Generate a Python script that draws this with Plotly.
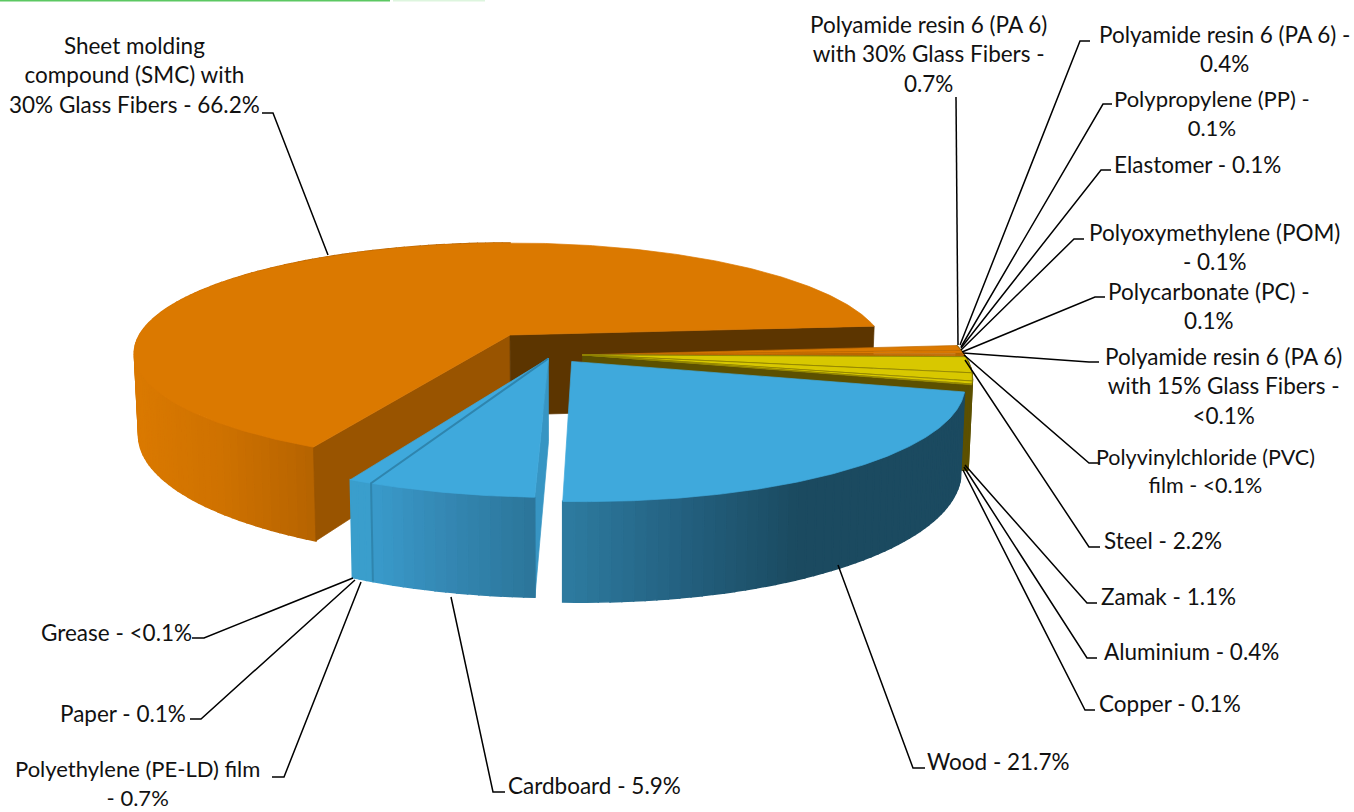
import numpy as np
import plotly.graph_objects as go

# ---------- data ----------
materials = ["Polyamide resin 6 (PA 6) with 30% Glass Fibers", "Polyamide resin 6 (PA 6)", "Polypropylene (PP)",
             "Elastomer", "Polyoxymethylene (POM)", "Polycarbonate (PC)",
             "Polyamide resin 6 (PA 6) with 15% Glass Fibers", "Polyvinylchloride (PVC) film",
             "Steel", "Zamak", "Aluminium", "Copper", "Wood", "Cardboard",
             "Polyethylene (PE-LD) film", "Paper", "Grease",
             "Sheet molding compound (SMC) with 30% Glass Fibers"]
shares = [0.7, 0.4, 0.1, 0.1, 0.1, 0.1, 0.05, 0.03, 2.2, 1.1, 0.4, 0.1, 21.7, 5.9, 0.7, 0.1, 0.03, 66.2]
groups = ["plastic"] * 8 + ["metal"] * 4 + ["wood"] + ["paper"] + ["paper"] * 3 + ["smc"]
label_texts = ["Polyamide resin 6 (PA 6)<br>with 30% Glass Fibers -<br>0.7%", "Polyamide resin 6 (PA 6) -<br>0.4%",
               "Polypropylene (PP) -<br>0.1%", "Elastomer - 0.1%", "Polyoxymethylene (POM)<br>- 0.1%",
               "Polycarbonate (PC) -<br>0.1%", "Polyamide resin 6 (PA 6)<br>with 15% Glass Fibers -<br>&lt;0.1%",
               "Polyvinylchloride (PVC)<br>film - &lt;0.1%", "Steel - 2.2%", "Zamak - 1.1%", "Aluminium - 0.4%",
               "Copper - 0.1%", "Wood - 21.7%", "Cardboard - 5.9%", "Polyethylene (PE-LD) film<br>- 0.7%",
               "Paper - 0.1%", "Grease - &lt;0.1%", "Sheet molding<br>compound (SMC) with<br>30% Glass Fibers - 66.2%"]

# ---------- layout / projection constants ----------
W, H = 1354, 812
CX, CY, A, B, K, DEPTH, VX = 510, 335, 370.5, 107.2, 0.165, 80, 560
START = -4.8
EXPLODE = {"plastic": (0.19, 0.18), "metal": (0.19, 0.18), "wood": (0.16, 0.237), "paper": (0.10, 0.212), "smc": (0, 0)}
FONT = "Lato"
FS = 22.5
label_sizes = [FS, FS, 22, FS, FS, FS, FS, 21.5, FS, FS, FS, FS, FS, FS, 22, FS, FS, FS]
label_pos = [(928, 54), (1224, 49), (1212, 113), (1197, 164), (1214, 247), (1209, 306), (1223, 386), (1205, 471),
             (1163, 540), (1168, 596), (1191, 651), (1170, 703), (998, 761), (594, 785), (137, 783), (123, 713),
             (116, 632), (134, 75)]
leaders = [[(956, 97), (958, 345)], [(1090, 41), (1080, 41), (960, 345)], [(1112, 104), (1103, 104), (961, 347)],
           [(1111, 170), (1101, 170), (961, 348)], [(1084, 239), (1074, 239), (961, 350)],
           [(1105, 297), (1095, 297), (962, 352)], [(1099, 362), (1089, 362), (963, 353)],
           [(1100, 463), (1089, 463), (964, 355)], [(1100, 547), (1089, 547), (965, 360)],
           [(1097, 603), (1087, 603), (965, 465)], [(1097, 658), (1087, 658), (964, 467)],
           [(1095, 710), (1085, 710), (963, 470)], [(925, 768), (913, 768), (838, 565)],
           [(505, 792), (493, 792), (451, 597)], [(272, 777), (284, 777), (361, 582)],
           [(190, 719), (201, 719), (355, 580)], [(192, 638), (204, 638), (353, 578)],
           [(262, 113), (273, 113), (328, 255)]]

ORANGE, YELLOW, BLUE = "#DB7900", "#D8C800", "#3FA9DC"
OLIVE, BROWN_D, BROWN_M = "#5C5000", "#5C3500", "#995400"


def project(th, r, off, z=0):
    th = np.radians(th)
    X = off[0] + r * np.cos(th)
    Y = off[1] + r * np.sin(th)
    w = 1 - K * Y
    sx = CX + A * X / w
    sy = CY + B * Y / w
    if z:
        sy = sy + DEPTH / w
        sx = VX + (sx - VX) * 0.99
    return sx, sy


def hex2rgb(h):
    return [int(h[i:i + 2], 16) for i in (1, 3, 5)]


def grad(x, stops):
    xs = [s[0] for s in stops]
    cs = np.array([hex2rgb(s[1]) for s in stops])
    return "rgb(%d,%d,%d)" % tuple(np.interp(x, xs, cs[:, i]) for i in range(3))


fig = go.Figure()


def poly(xs, ys, color, line=None, lw=0.7):
    fig.add_trace(go.Scatter(x=list(xs), y=list(ys), mode="lines", fill="toself", fillcolor=color,
                             line=dict(color=line or color, width=lw), hoverinfo="skip", showlegend=False))


def top(t0, t1, off, color, line=None, lw=0.7):
    th = np.linspace(t0, t1, max(3, int(abs(t1 - t0) * 2)))
    x, y = project(th, 1.0, off)
    ax, ay = project(0, 0, off)
    poly(np.r_[ax, x, ax], np.r_[ay, y, ay], color, line, lw)


def arc_wall(t0, t1, off, stops, step=1.5):
    n = max(2, int(abs(t1 - t0) / step) + 1)
    th = np.linspace(t0, t1, n + 1)
    for a, b in zip(th[:-1], th[1:]):
        x0, y0 = project(np.array([a, b]), 1.0, off)
        x1, y1 = project(np.array([b, a]), 1.0, off, 1)
        poly(np.r_[x0, x1, x0[0]], np.r_[y0, y1, y0[0]], grad((x0[0] + x0[1]) / 2, stops), lw=1.6)


def cut_wall(t, off, color):
    ax, ay = project(0, 0, off)
    bx, by = project(0, 0, off, 1)
    ox, oy = project(t, 1.0, off)
    px, py = project(t, 1.0, off, 1)
    poly([ax, ox, px, bx, ax], [ay, oy, py, by, ay], color)


# cumulative angles
edges = START + np.r_[0, np.cumsum(shares)] / sum(shares) * 360
grp_idx = lambda g: [i for i, v in enumerate(groups) if v == g]

# SMC
s0, s1 = edges[-2], edges[-1]
smc_off = EXPLODE["smc"]
arc_wall(s0, 270, smc_off, [(133, "#DB7A00"), (220, "#CF7200"), (316, "#B56300")])
cut_wall(s0, smc_off, BROWN_M)
cut_wall(s1 - 360, smc_off, BROWN_D)
top(s0, s1, smc_off, ORANGE)

# small plastic & metal slices
metal = grp_idx("metal")
m_off = EXPLODE["metal"]
cut_wall(edges[metal[-1] + 1], m_off, OLIVE)
arc_wall(edges[grp_idx("plastic")[0]], edges[metal[-1] + 1], m_off, [(0, OLIVE), (2000, OLIVE)], 3)
for i in grp_idx("plastic"):
    top(edges[i], edges[i + 1], EXPLODE["plastic"], ORANGE, "#BE6A00", 0.7)
top(edges[metal[0]] - 0.15, edges[metal[0]] + 0.15, m_off, "#7E8A1C")
for i in metal:
    top(edges[i], edges[i + 1], m_off, YELLOW, "#8F8300", 0.8)

# wood
w = grp_idx("wood")[0]
w_off = EXPLODE["wood"]
arc_wall(edges[w], edges[w + 1], w_off, [(560, "#2E7DA2"), (690, "#235F7E"), (800, "#1B4A60"), (960, "#1B4A60")])
top(edges[w], edges[w + 1], w_off, BLUE)

# cardboard and thin blue slices
p_off = EXPLODE["paper"]
pi = grp_idx("paper")
cut_wall(edges[pi[0]], p_off, "#3795C3")
arc_wall(edges[pi[0]], edges[pi[0] + 1], p_off, [(372, "#3A9BCB"), (440, "#3589B5"), (533, "#2C769A")])
arc_wall(edges[pi[1]], edges[pi[-1] + 1], p_off, [(0, "#3A9ECC"), (2000, "#3A9ECC")], 1)
top(edges[pi[0]], edges[pi[0] + 1], p_off, BLUE)
top(edges[pi[1]], edges[pi[-1] + 1], p_off, BLUE)
ax_, ay_ = project(0, 0, p_off)
ox_, oy_ = project(edges[pi[1]], 1.0, p_off)
bx_, by_ = project(edges[pi[1]], 1.0, p_off, 1)
fig.add_trace(go.Scatter(x=[ax_, ox_, bx_], y=[ay_, oy_, by_], mode="lines",
                         line=dict(color="#2F85AE", width=2), hoverinfo="skip", showlegend=False))

# leader lines (layout furniture)
for path in leaders:
    fig.add_shape(type="path", xref="x", yref="y",
                  path="M " + " L ".join(f"{x},{y}" for x, y in path), line=dict(color="black", width=1.5))

# labels
for text, (x, y), size in zip(label_texts, label_pos, label_sizes):
    fig.add_annotation(x=x, y=y, xref="x", yref="y", text=text, showarrow=False, align="center",
                       xanchor="center", yanchor="middle",
                       font=dict(family=FONT, size=size, color="#111111"))

# cropped strip at the top edge
fig.add_shape(type="rect", x0=0, x1=390, y0=0, y1=1.5, line_width=0, fillcolor="#5CC862")
fig.add_shape(type="rect", x0=393, x1=485, y0=0, y1=1.5, line_width=0, fillcolor="#DDF5DE")

fig.update_layout(width=W, height=H, margin=dict(l=0, r=0, t=0, b=0), paper_bgcolor="white",
                  plot_bgcolor="white", showlegend=False,
                  xaxis=dict(range=[0, W], visible=False, fixedrange=True),
                  yaxis=dict(range=[H, 0], visible=False, fixedrange=True))
fig.write_html("out.html", post_script="document.body.style.margin='0';document.body.style.overflow='hidden';",
               config={"displayModeBar": False})
